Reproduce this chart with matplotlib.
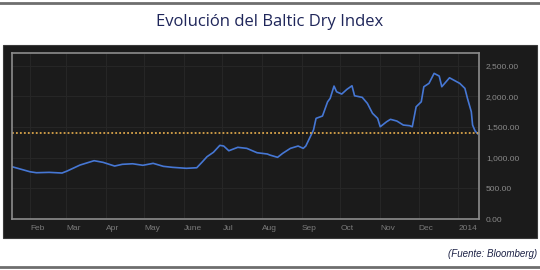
import pandas as pd
import numpy as np
from matplotlib import pyplot as plt
import matplotlib.dates as mdates
from matplotlib.patches import Rectangle
from matplotlib.lines import Line2D

# Baltic Dry Index
dates = ['2013-01-18', '2013-02-01', '2013-02-06', '2013-02-16', '2013-02-26', '2013-03-02',
         '2013-03-12', '2013-03-23', '2013-03-30', '2013-04-08', '2013-04-14', '2013-04-22',
         '2013-04-30', '2013-05-08', '2013-05-16', '2013-05-23', '2013-06-03', '2013-06-11',
         '2013-06-15', '2013-06-19', '2013-06-24', '2013-06-29', '2013-07-02', '2013-07-06',
         '2013-07-13', '2013-07-20', '2013-07-28', '2013-08-05', '2013-08-07', '2013-08-13',
         '2013-08-17', '2013-08-23', '2013-08-29', '2013-09-02', '2013-09-04', '2013-09-10',
         '2013-09-12', '2013-09-17', '2013-09-21', '2013-09-23', '2013-09-26', '2013-09-28',
         '2013-10-02', '2013-10-06', '2013-10-10', '2013-10-12', '2013-10-18', '2013-10-22',
         '2013-10-26', '2013-10-30', '2013-11-01', '2013-11-06', '2013-11-09', '2013-11-14',
         '2013-11-19', '2013-11-24', '2013-11-26', '2013-11-29', '2013-12-03', '2013-12-05',
         '2013-12-09', '2013-12-13', '2013-12-17', '2013-12-19', '2013-12-25', '2014-01-02',
         '2014-01-06', '2014-01-08', '2014-01-11', '2014-01-12', '2014-01-14', '2014-01-16']
bdi = [852, 770, 754, 760, 749, 782,
       879, 950, 923, 863, 891, 900,
       875, 907, 858, 842, 826, 835,
       923, 1015, 1087, 1200, 1189, 1112,
       1168, 1151, 1080, 1059, 1042, 1005,
       1070, 1151, 1189, 1151, 1189, 1450,
       1640, 1678, 1910, 1966, 2166, 2073,
       2036, 2112, 2171, 2008, 1982, 1884,
       1722, 1640, 1503, 1585, 1624, 1596,
       1531, 1520, 1503, 1829, 1910, 2155,
       2210, 2373, 2329, 2155, 2301, 2210,
       2129, 1966, 1748, 1531, 1433, 1389]
ref_level = 1395

month_labels = ['Feb', 'Mar', 'Apr', 'May', 'June', 'Jul', 'Aug', 'Sep', 'Oct', 'Nov', 'Dec', '2014']
y_ticks = [0, 500, 1000, 1500, 2000, 2500]

dates = pd.to_datetime(dates)
W, H = 540, 270

fig = plt.figure(figsize=(5.4, 2.7), dpi=100)
fig.patch.set_facecolor('white')

# grey rules top and bottom
fig.add_artist(Line2D([0, 1], [1 - 3 / H, 1 - 3 / H], color='#6e6e6e', lw=2))
fig.add_artist(Line2D([0, 1], [1 - 267 / H, 1 - 267 / H], color='#6e6e6e', lw=2))

# dark panel behind chart
fig.add_artist(Rectangle((3 / W, 1 - 238 / H), 534 / W, 193 / H, facecolor='#1b1b1b',
                         edgecolor='#3a3a3a', lw=0.8, zorder=-1))

fig.text(0.5, 1 - 22 / H, 'Evolución del Baltic Dry Index', ha='center', va='center',
         fontsize=12, color='#1f265a', family='Open Sans')
fig.text(537 / W, 1 - 254 / H, '(Fuente: Bloomberg)', ha='right', va='center',
         fontsize=7, style='italic', color='#1c2145', family='Liberation Sans')

ax = fig.add_axes([12 / W, 1 - 219 / H, 467 / W, 165.7 / H])
ax.set_facecolor('#1b1b1b')

ax.plot(dates, bdi, color='#4677d4', lw=1.2)
ax.axhline(ref_level, color='#d9a44a', lw=1.3, ls=(0, (1, 1.2)))

ax.set_xlim(pd.Timestamp('2013-01-18'), pd.Timestamp('2014-01-17'))
ax.set_ylim(0, 2700)

month_starts = pd.date_range('2013-02-01', '2014-01-01', freq='MS')
ax.set_xticks(month_starts)
ax.set_xticklabels(month_labels, ha='left', fontsize=6, color='#7a7a7a', family='Liberation Sans')
ax.set_yticks(y_ticks)
ax.set_yticklabels(['{:,.2f}'.format(v) for v in y_ticks], fontsize=6, color='#8a8a8a',
                   family='Liberation Sans')
ax.yaxis.tick_right()
ax.tick_params(axis='x', length=0, pad=4)
ax.tick_params(axis='y', length=0, pad=5)

ax.grid(True, color='#262626', lw=0.8)
for s in ax.spines.values():
    s.set_color('#8c8c8c')
    s.set_linewidth(1.2)

plt.savefig('out.png', dpi=100)
